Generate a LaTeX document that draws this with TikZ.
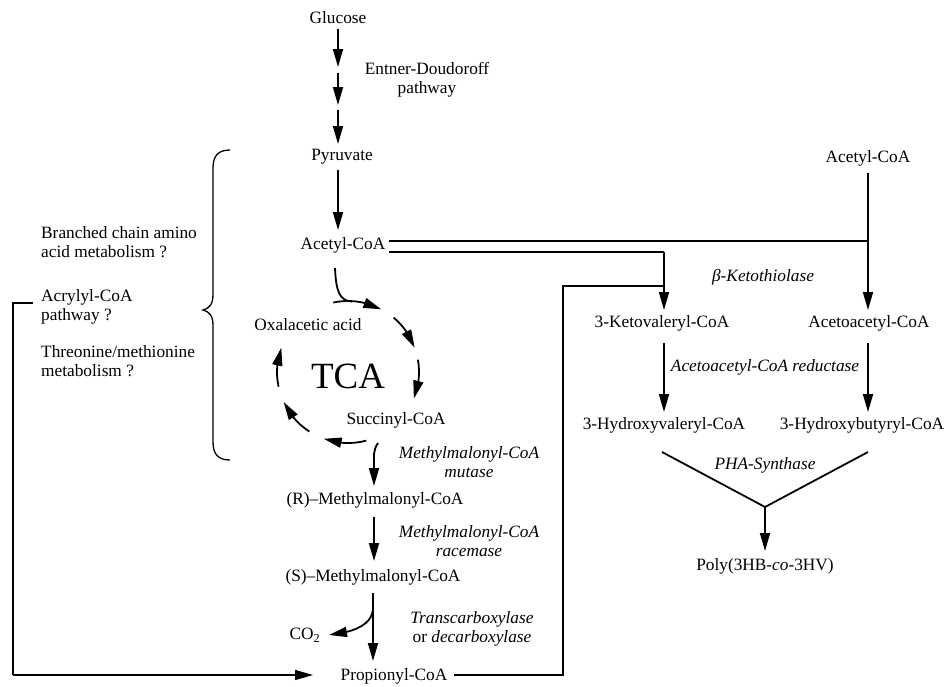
\documentclass[tikz,border=0pt]{standalone}
\usepackage{fontspec}
\setmainfont{Liberation Serif}
\usetikzlibrary{arrows.meta,bending,calc}
\begin{document}
\begin{tikzpicture}[x=1pt,y=-1pt,
  lbl/.style={inner sep=0pt,font=\fontsize{17.3}{19}\selectfont},
  enz/.style={inner sep=0pt,font=\fontsize{17.3}{19}\selectfont\itshape,align=center},
  arr/.style={line width=1.8pt,-{Triangle[length=18pt,width=10pt]}},
  ln/.style={line width=1.8pt},
  thin/.style={line width=1.4pt},
]
\useasboundingbox (0,0) rectangle (951,686);

% ---------------- nodes ----------------
\node[lbl] (glc) at (338,18) {Glucose};
\node[lbl,align=center] (ed) at (427,80) {Entner-Doudoroff\\pathway};
\node[lbl] (pyr) at (342,157) {Pyruvate};
\node[lbl] (acl) at (343,245) {Acetyl-CoA};
\node[lbl] (acr) at (868,158) {Acetyl-CoA};
\node[enz] (ket) at (763,277) {β-Ketothiolase};
\node[lbl] (kv) at (662,323) {3-Ketovaleryl-CoA};
\node[lbl] (aa) at (869,323) {Acetoacetyl-CoA};
\node[enz] (red) at (765,367) {Acetoacetyl-CoA reductase};
\node[lbl] (hv) at (664,425) {3-Hydroxyvaleryl-CoA};
\node[lbl] (hb) at (862,425) {3-Hydroxybutyryl-CoA};
\node[enz] (pha) at (765,465) {PHA-Synthase};
\node[lbl] (poly) at (765,566) {Poly(3HB-\textit{co}-3HV)};

\node[lbl,anchor=west,align=left] (bca) at (41,242) {Branched chain amino\\acid metabolism ?};
\node[lbl,anchor=west,align=left] (acp) at (41,307) {Acrylyl-CoA\\pathway ?};
\node[lbl,anchor=west,align=left] (thr) at (41,361) {Threonine/methionine\\metabolism ?};

\node[lbl] (oxa) at (308,325) {Oxalacetic acid};
\node[inner sep=0pt,font=\fontsize{37}{37}\selectfont] (tca) at (348,376) {TCA};
\node[lbl] (suc) at (396,420) {Succinyl-CoA};
\node[enz] (mut) at (469,462) {Methylmalonyl-CoA\\mutase};
\node[lbl] (rmm) at (375,500) {(R)–Methylmalonyl-CoA};
\node[enz] (rac) at (469,541) {Methylmalonyl-CoA\\racemase};
\node[lbl] (smm) at (373,577) {(S)–Methylmalonyl-CoA};
\node[lbl,align=center] (tc) at (472,629) {\textit{Transcarboxylase}\\or \textit{decarboxylase}};
\node[lbl] (co2) at (305,635) {CO\textsubscript{2}};
\node[lbl] (prop) at (394,676) {Propionyl-CoA};

% ---------------- coordinates ----------------
\coordinate (c) at (348,372);
\coordinate (kx) at (664,252);
\coordinate (ax) at (868,241);
\coordinate (pr1) at (563,675);
\coordinate (pr2) at (563,286);
\coordinate (pr3) at (664,286);
\coordinate (vj) at (765,507);
\coordinate (bl1) at (33,303);
\coordinate (bl2) at (13,303);
\coordinate (bl3) at (13,675);

% ---------------- glucose to acetyl-CoA ----------------
\draw[arr] (338,29) -- (338,67);
\draw[arr] (338,73) -- (338,105);
\draw[arr] (338,110) -- (338,144);
\draw[arr] (338,170) -- (338,230);

% ---------------- double line from acetyl-CoA ----------------
\draw[thin] (acl.east |- ax) ++(4,0) -- (ax);
\draw[thin] (acl.east |- kx) ++(4,0) -- (kx);
\draw[arr] (kx) -- (664,310);
\draw[arr] (868,173) -- (868,310);
% propionyl-CoA line
\draw[thin] (prop.east |- pr1) ++(6,0) -- (pr1) -- (pr2) -- (pr3);

% ---------------- right column ----------------
\draw[arr] (664,343) -- (664,412);
\draw[arr] (868,343) -- (868,412);
\draw[ln] (662,452) -- (vj) -- (868,452);
\draw[arr] (vj) -- (765,551);

% ---------------- brace ----------------
\draw[line width=1.3pt] (230,150) .. controls (218,150) and (213,156) .. (213,168)
  -- (213,294) .. controls (213,304) and (210,308) .. (203,310)
  .. controls (210,312) and (213,316) .. (213,326)
  -- (213,442) .. controls (213,454) and (218,460) .. (230,460);

% left return line to propionyl-CoA
\draw[thin] (bl1) -- (bl2) -- (bl3);
\draw[arr,line width=1.4pt] (bl3) -- (313,675);

% ---------------- TCA cycle ----------------
\draw[ln] (335,268) .. controls (336,290) and (339,301) .. (352,301.5);
\draw[arr] ($(c)+(-102:71)$) arc[start angle=-102,end angle=-62,radius=71];
\draw[arr] ($(c)+(-50:71)$) arc[start angle=-50,end angle=-20,radius=71];
\draw[arr] ($(c)+(-10:71)$) arc[start angle=-10,end angle=22,radius=71];
\draw[arr] ($(c)+(75:71)$) arc[start angle=75,end angle=110,radius=71];
\draw[arr] ($(c)+(123:71)$) arc[start angle=123,end angle=155,radius=71];
\draw[arr] ($(c)+(168:71)$) arc[start angle=168,end angle=200,radius=71];

% ---------------- methylmalonyl path ----------------
\draw[arr] (378,443) .. controls (373,450) and (374,456) .. (374,466) -- (374,486);
\draw[arr] (374,517) -- (374,561);
\draw[arr] (373,593) -- (373,661);
\draw[arr] (373,609) .. controls (372,624) and (356,632) .. (329,635);
\end{tikzpicture}
\end{document}
